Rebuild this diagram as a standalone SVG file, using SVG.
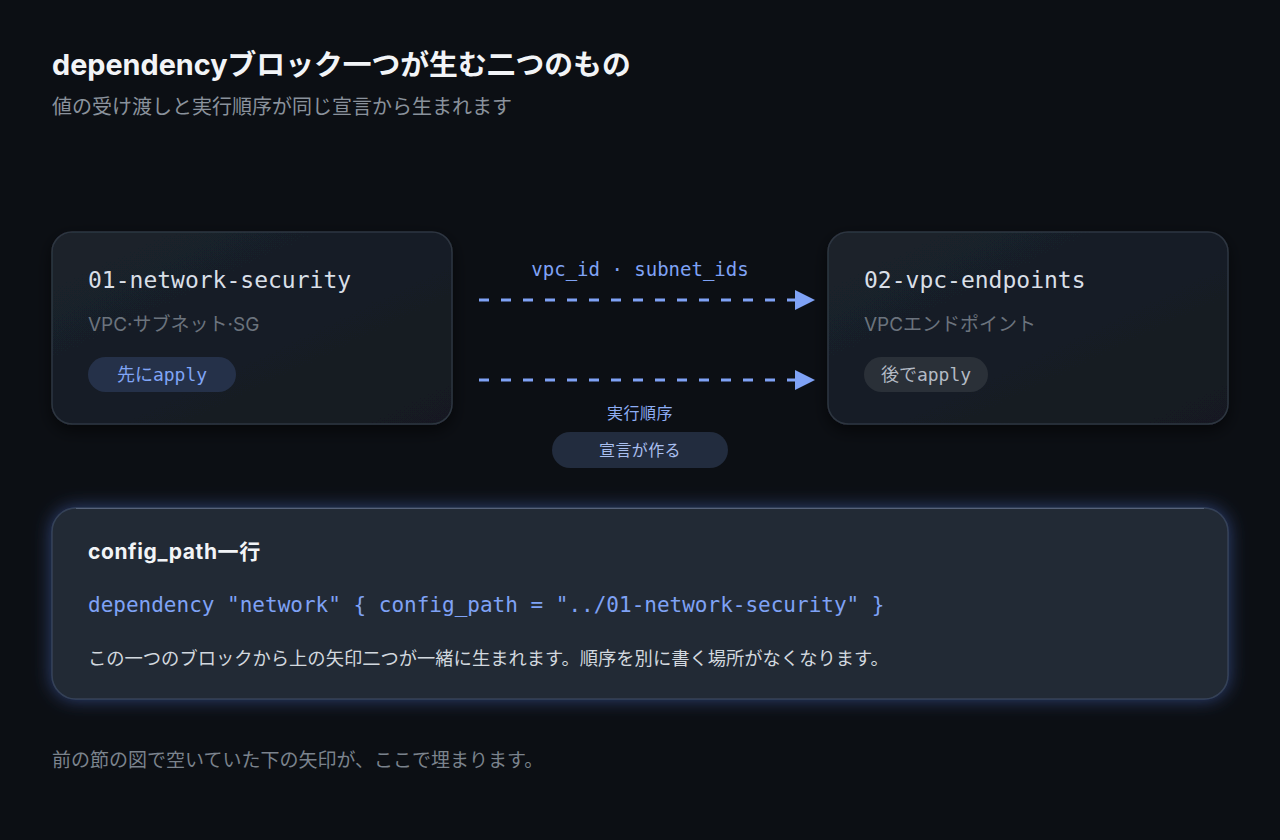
<svg xmlns="http://www.w3.org/2000/svg" width="1280" height="840" viewBox="0 0 1280 840">
  <defs>
    <linearGradient id="cardGrad" x1="0" y1="0" x2="1" y2="1">
      <stop offset="0" stop-color="#1b222c"/>
      <stop offset="1" stop-color="#141920"/>
    </linearGradient>
    <filter id="shadow" x="-10%" y="-10%" width="120%" height="130%">
      <feDropShadow dx="0" dy="6" stdDeviation="8" flood-color="#000000" flood-opacity="0.55"/>
    </filter>
    <filter id="glow" x="-5%" y="-20%" width="110%" height="140%">
      <feGaussianBlur in="SourceAlpha" stdDeviation="9" result="b"/>
      <feFlood flood-color="#4a6bc4" flood-opacity="0.55"/>
      <feComposite in2="b" operator="in" result="g"/>
      <feMerge>
        <feMergeNode in="g"/>
        <feMergeNode in="SourceGraphic"/>
      </feMerge>
    </filter>
    <marker id="arrow" markerWidth="20" markerHeight="20" refX="0" refY="10" orient="auto" markerUnits="userSpaceOnUse">
      <path d="M0,0 L20,10 L0,20 Z" fill="#7fa2f5"/>
    </marker>
    <style>
      .sans { font-family: Inter, "Noto Sans CJK JP", "Noto Sans", sans-serif; }
      .mono { font-family: "DejaVu Sans Mono", "Liberation Mono", "Noto Sans CJK JP", monospace; }
      .card { fill: url(#cardGrad); stroke: #2e3641; stroke-width: 1.5; }
      .ntitle { font-size: 23px; fill: #d9dfe7; }
      .nsub { font-size: 19px; fill: #6b737d; }
      .pilltxt { font-size: 18px; text-anchor: middle; }
      .conn { stroke: #7fa2f5; stroke-width: 3; stroke-dasharray: 10 12; fill: none; }
    </style>
  </defs>

  <rect x="0" y="0" width="1280" height="840" fill="#0c0f14"/>

  <g id="header">
    <text x="52" y="75" class="sans" font-size="28.8" font-weight="700" fill="#f2f4f7">dependencyブロック一つが生む二つのもの</text>
    <text x="52" y="114" class="sans" font-size="20" fill="#8a929c">値の受け渡しと実行順序が同じ宣言から生まれます</text>
  </g>

  <g id="node-01">
    <rect x="52" y="232" width="400" height="192" rx="20" class="card" filter="url(#shadow)"/>
    <text x="88" y="288" class="mono ntitle">01-network-security</text>
    <text x="88" y="331" class="sans nsub">VPC·サブネット·SG</text>
    <rect x="88" y="357" width="148" height="35" rx="17.5" fill="#253149"/>
    <text x="162" y="381" class="mono pilltxt" fill="#80a5f6">先にapply</text>
  </g>

  <g id="node-02">
    <rect x="828" y="232" width="400" height="192" rx="20" class="card" filter="url(#shadow)"/>
    <text x="864" y="288" class="mono ntitle">02-vpc-endpoints</text>
    <text x="864" y="331" class="sans nsub">VPCエンドポイント</text>
    <rect x="864" y="357" width="124" height="35" rx="17.5" fill="#2a3038"/>
    <text x="926" y="381" class="mono pilltxt" fill="#b3bac4">後でapply</text>
  </g>

  <g id="connectors">
    <line x1="479" y1="300" x2="795" y2="300" class="conn" marker-end="url(#arrow)"/>
    <text x="640" y="276" class="mono" font-size="19" fill="#7fa2f5" text-anchor="middle">vpc_id · subnet_ids</text>
    <line x1="479" y1="380" x2="795" y2="380" class="conn" marker-end="url(#arrow)"/>
    <text x="640" y="419" class="sans" font-size="16" letter-spacing="0.5" fill="#8eaef5" text-anchor="middle">実行順序</text>
    <rect x="552" y="432" width="176" height="36" rx="18" fill="#222c3e"/>
    <text x="640" y="456" class="sans" font-size="16" letter-spacing="0.4" fill="#a9bfee" text-anchor="middle">宣言が作る</text>
  </g>

  <g id="config-card">
    <rect x="52" y="508" width="1176" height="191" rx="24" fill="#222a36" stroke="#364256" stroke-width="1.5" filter="url(#glow)"/>
    <line x1="76" y1="508.5" x2="1204" y2="508.5" stroke="#56627a" stroke-width="1.2"/>
    <text x="88" y="559" class="sans" font-size="21" font-weight="700" letter-spacing="0.6" fill="#f2f4f7">config_path一行</text>
    <text x="88" y="612" class="mono" font-size="21" fill="#7fa2f5">dependency "network" { config_path = "../01-network-security" }</text>
    <text x="88" y="665" class="sans" font-size="18.3" fill="#d2d8df">この一つのブロックから上の矢印二つが一緒に生まれます。順序を別に書く場所がなくなります。</text>
  </g>

  <g id="footer">
    <text x="52" y="767" class="sans" font-size="19" fill="#7b838d">前の節の図で空いていた下の矢印が、ここで埋まります。</text>
  </g>
</svg>
